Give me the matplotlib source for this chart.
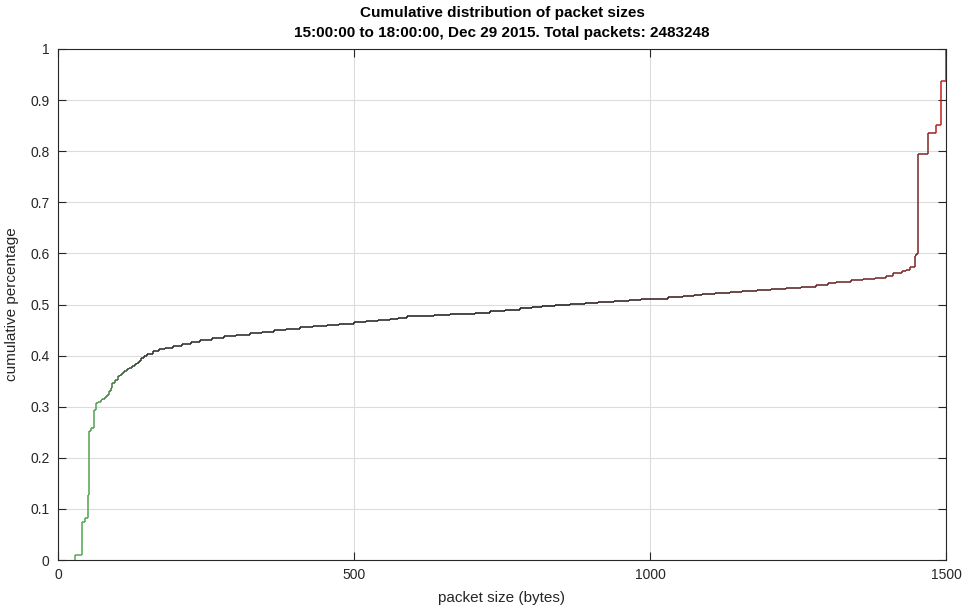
import numpy as np
import matplotlib
matplotlib.use('Agg')
import matplotlib.pyplot as plt
from matplotlib.collections import LineCollection
from matplotlib.colors import LinearSegmentedColormap

# Packet size (bytes) where the cumulative fraction steps up, and the new level
sizes = [29, 40, 46, 50, 52, 56, 61, 64, 68, 72, 75, 79, 83, 86, 89, 92, 96,
         101, 104, 108, 112, 116, 120, 125, 130, 134, 137, 140, 145, 150, 160,
         170, 180, 195, 210, 225, 240, 260, 280, 300, 324, 345, 365, 385, 409,
         430, 455, 475, 500, 520, 540, 561, 575, 589, 610, 635, 663, 685, 704,
         730, 755, 780, 800, 817, 840, 865, 890, 913, 940, 965, 985, 1005, 1030,
         1055, 1075, 1088, 1110, 1135, 1156, 1180, 1205, 1230, 1255, 1280, 1300,
         1314, 1340, 1360, 1380, 1399, 1410, 1425, 1433, 1440, 1447, 1450, 1453,
         1470, 1483, 1492, 1500]
cdf = [0.010, 0.074, 0.082, 0.127, 0.252, 0.258, 0.294, 0.307, 0.310, 0.313,
       0.316, 0.319, 0.323, 0.330, 0.337, 0.346, 0.352, 0.360, 0.363, 0.366,
       0.370, 0.373, 0.376, 0.379, 0.383, 0.386, 0.390, 0.395, 0.400, 0.404,
       0.409, 0.412, 0.415, 0.418, 0.422, 0.427, 0.431, 0.434, 0.438, 0.441,
       0.445, 0.447, 0.450, 0.452, 0.455, 0.457, 0.460, 0.462, 0.465, 0.467,
       0.469, 0.471, 0.474, 0.477, 0.478, 0.479, 0.481, 0.482, 0.484, 0.487,
       0.490, 0.493, 0.495, 0.497, 0.499, 0.501, 0.503, 0.505, 0.507, 0.509,
       0.510, 0.511, 0.514, 0.517, 0.519, 0.521, 0.523, 0.525, 0.526, 0.528,
       0.530, 0.532, 0.535, 0.539, 0.542, 0.545, 0.548, 0.550, 0.552, 0.555,
       0.561, 0.565, 0.568, 0.574, 0.594, 0.598, 0.795, 0.835, 0.851, 0.937,
       1.000]

title_lines = ["Cumulative distribution of packet sizes",
               "15:00:00 to 18:00:00, Dec 29 2015. Total packets: 2483248"]
x_ticks = [0, 500, 1000, 1500]
y_ticks = [0, 0.1, 0.2, 0.3, 0.4, 0.5, 0.6, 0.7, 0.8, 0.9, 1]
y_ticklabels = ["0", "0.1", "0.2", "0.3", "0.4", "0.5", "0.6", "0.7", "0.8", "0.9", "1"]

plt.rcParams['font.family'] = ['Liberation Sans', 'DejaVu Sans']
axis_col = '#262626'

fig = plt.figure(figsize=(9.68, 6.15), dpi=100)
ax = fig.add_axes([58 / 968, 1 - 560 / 615, 888 / 968, 511 / 615])

# build the step outline (steps-post) and colour each piece by packet size
xs = np.asarray(sizes, dtype=float)
ys = np.asarray(cdf, dtype=float)
px = [xs[0]]
py = [0.0]
for i in range(len(xs)):
    if i > 0:
        px.append(xs[i])
        py.append(ys[i - 1])
    px.append(xs[i])
    py.append(ys[i])
pts = np.column_stack([px, py])
segs = np.stack([pts[:-1], pts[1:]], axis=1)
mid = segs[:, :, 0].mean(axis=1) / 1500.0

cmap = LinearSegmentedColormap.from_list('pkt', [
    (0.00, (0.30, 0.70, 0.30)),
    (0.04, (0.32, 0.62, 0.32)),
    (0.10, (0.15, 0.15, 0.15)),
    (0.55, (0.08, 0.08, 0.08)),
    (0.80, (0.30, 0.10, 0.10)),
    (0.98, (0.50, 0.15, 0.15)),
    (1.00, (0.85, 0.10, 0.10)),
])
lc = LineCollection(segs, colors=cmap(mid), linewidths=1.1)
ax.add_collection(lc)

ax.set_xlim(0, 1500)
ax.set_ylim(0, 1)
ax.set_xticks(x_ticks)
ax.set_yticks(y_ticks)
ax.set_yticklabels(y_ticklabels)
ax.grid(True, color='#dcdcdc', linewidth=0.8)
ax.set_axisbelow(True)
ax.tick_params(direction='in', length=6, width=0.8, colors=axis_col,
               labelsize=10, top=True, right=True, pad=6)
for s in ax.spines.values():
    s.set_color(axis_col)
    s.set_linewidth(0.8)

ax.set_xlabel("packet size (bytes)", fontsize=11, color=axis_col, labelpad=6)
ax.set_ylabel("cumulative percentage", fontsize=11, color=axis_col, labelpad=8)
ax.set_title("\n".join(title_lines), fontsize=11, fontweight='bold',
             color='black', pad=9, linespacing=1.5)

fig.savefig("out.png", dpi=100)
